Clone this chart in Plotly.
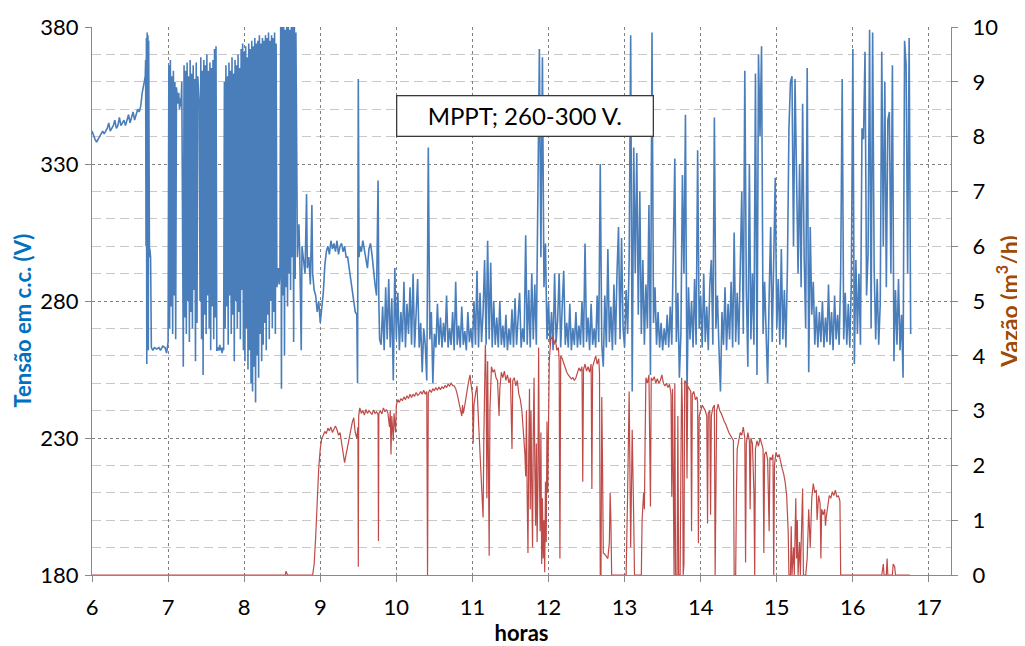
import plotly.graph_objects as go

# Tensão em c.c. (V) -- trechos com passo fixo: (hora inicial, passo em h, valores)
tensao_ini_t0, tensao_ini_dt = 6.00, 0.02
tensao_ini = [342, 340, 339, 338, 339, 340, 341, 342, 341, 342,
              343, 345, 342, 343, 344, 346, 343, 344, 347, 344,
              345, 346, 344, 346, 348, 345, 347, 349, 346, 348,
              350, 349, 351, 356, 359, 362]

# subida e patamar antes das 7 h (hora, V)
tensao_rampa_t = [6.705, 6.71, 6.715, 6.72, 6.725, 6.73, 6.735, 6.74, 6.745, 6.75, 6.755, 6.76,
                  6.77, 6.775, 6.78, 6.80, 6.82, 6.85, 6.88, 6.90, 6.93, 6.96, 6.98]
tensao_rampa = [368, 300, 376, 257, 378, 290, 377, 262, 375, 300, 296, 299,
                296, 280, 263, 262, 263, 262.5, 263, 262, 263.5, 263, 261]

# oscilação densa entre 7 h e 8 h 40
tensao_denso_t0, tensao_denso_dt = 7.00, 0.01
tensao_denso = [265, 366, 270, 368, 278, 362, 268, 364, 282, 360, 266, 358,
                355, 352, 356, 350, 354, 351, 360,
                270, 256, 366, 274, 364, 268, 367, 280, 362, 265, 368, 276, 363, 270, 366, 284, 361, 258, 367, 272, 362,
                356, 352,
                280, 369, 266, 364, 253, 368, 275, 366, 268, 370, 282, 364, 270, 367, 262, 365, 278, 368, 266, 372, 274, 373,
                262, 262, 263, 262, 264, 262, 263, 261, 263, 262,
                360, 270, 366, 278, 362, 264, 367, 282, 364, 268, 369, 275, 363, 258, 368, 280, 366, 270, 370, 276,
                365, 266, 372, 284, 374,
                262, 371, 258, 373, 270, 369, 255, 374, 262, 372, 250, 375, 247, 373, 256, 376, 243, 374, 260, 375,
                252, 377, 268, 374, 258, 376, 264, 375, 272, 377, 262, 376, 275, 378, 266, 375, 280, 377, 270, 376,
                276, 378, 268, 374, 285,
                288, 292, 286, 290,
                380, 248, 380, 282, 380, 260, 379, 285, 380, 278, 380, 290, 379, 284, 380, 296, 380, 265, 380, 288, 378]

# transição 8 h 40 - 9 h 47 (hora, V)
tensao_meio_t = [8.69, 8.70, 8.72, 8.73, 8.75, 8.76, 8.78, 8.80, 8.82, 8.83,
                 8.85, 8.87, 8.89, 8.90, 8.92, 8.94, 8.96, 8.98, 9.00, 9.02,
                 9.04, 9.06, 9.08, 9.10, 9.12, 9.14, 9.16, 9.18, 9.20, 9.22,
                 9.24, 9.26, 9.28, 9.30, 9.32, 9.34, 9.36, 9.38, 9.40, 9.42,
                 9.44, 9.46, 9.48, 9.49, 9.50, 9.51, 9.52, 9.54, 9.56, 9.58,
                 9.60, 9.62, 9.64, 9.66, 9.68, 9.70, 9.72, 9.74, 9.75, 9.76,
                 9.77, 9.78]
tensao_meio = [300, 296, 308, 298, 262, 300, 295, 290, 319, 292,
               296, 286, 315, 290, 284, 282, 276, 280, 272, 277,
               283, 293, 298, 300, 297, 302, 299, 301, 298, 302,
               297, 300, 301, 298, 300, 296, 296, 292, 288, 284,
               280, 276, 275, 250, 361, 296, 300, 298, 302, 299,
               296, 292, 299, 301, 297, 290, 286, 282, 300, 324,
               280, 266]

# MPPT a partir de 9 h 48
tensao_tarde_t0, tensao_tarde_dt = 9.80, 0.02
tensao_tarde = [264, 278, 262, 285, 266, 288, 263, 281, 251, 292,
                266, 283, 262, 276, 265, 287, 263, 279, 268, 285,
                264, 290, 263, 277, 288, 263, 272, 254, 270, 264,
                251, 336, 266, 276, 250, 268, 263, 279, 264, 274,
                263, 272, 265, 282, 263, 270, 264, 276, 262, 287,
                264, 271, 263, 278, 264, 269, 262, 276, 265, 270,
                263, 280, 264, 291, 263, 283, 265, 276, 295, 264,
                302, 266, 294, 263, 280, 264, 274, 263, 280, 264,
                271, 263, 275, 262, 270, 264, 277, 263, 281, 264,
                272, 283, 263, 270, 265, 304, 264, 284, 263, 290,
                266, 286, 264, 318, 372, 296, 369, 285, 301, 266,
                280, 264, 276, 262, 290, 265, 273, 290, 263, 278,
                291, 264, 272, 263, 279, 262, 270, 264, 276, 263,
                271, 264, 280, 263, 301, 265, 274, 262, 279, 264,
                270, 263, 282, 265, 330, 264, 256, 282, 263, 299,
                265, 278, 262, 286, 264, 290, 307, 266, 303, 270,
                263, 284, 268, 295, 377, 247, 336, 290, 334, 275,
                320, 268, 295, 264, 286, 270, 315, 253, 378, 272,
                285, 264, 276, 263, 272, 262, 270, 264, 275, 263,
                278, 264, 297, 332, 265, 283, 252, 268, 326, 290,
                348, 245, 285, 266, 280, 263, 288, 264, 335, 270,
                282, 263, 290, 265, 278, 262, 286, 295, 264, 347,
                270, 282, 263, 247, 276, 264, 285, 262, 279, 266,
                287, 263, 305, 265, 283, 264, 292, 320, 268, 364,
                284, 256, 330, 266, 290, 264, 363, 253, 370, 340,
                373, 268, 287, 264, 250, 282, 307, 265, 290, 325,
                270, 288, 264, 299, 266, 284, 263, 292, 343, 360,
                362, 300, 361, 320, 290, 330, 285, 352, 296, 270,
                365, 254, 307, 275, 287, 264, 278, 263, 276, 265,
                280, 263, 274, 265, 286, 264, 276, 262, 282, 266,
                275, 264, 290, 361, 266, 283, 264, 279, 263, 287,
                372, 257, 295, 268, 290, 264, 343, 339, 371, 282,
                297, 379, 270, 378, 292, 266, 288, 264, 279, 371,
                300, 360, 285, 346, 349, 290, 366, 258, 284, 264,
                288, 262, 275, 252, 375, 366, 290, 376, 268]

# Vazão (m3/h), pares (hora, vazão)
vazao_manha = [(6.00, 0), (8.54, 0), (8.55, 0.07), (8.57, 0), (8.90, 0), (8.92, 0.2), (8.94, 0.7),
               (8.95, 1.05), (8.97, 1.5), (8.98, 1.95), (9.00, 2.3), (9.02, 2.5), (9.04, 2.55),
               (9.06, 2.62), (9.08, 2.58), (9.10, 2.68), (9.12, 2.63), (9.14, 2.7), (9.16, 2.6),
               (9.18, 2.66), (9.20, 2.72), (9.22, 2.65), (9.24, 2.55), (9.26, 2.6), (9.28, 2.42),
               (9.30, 2.25), (9.32, 2.05), (9.34, 2.2), (9.36, 2.35), (9.38, 2.45), (9.40, 2.62),
               (9.42, 2.78), (9.44, 2.87), (9.46, 2.6), (9.48, 2.5), (9.495, 2.7), (9.50, 0.15),
               (9.505, 2.9), (9.52, 3.05), (9.54, 2.95), (9.56, 3.0), (9.58, 2.92), (9.60, 3.02),
               (9.62, 2.95), (9.64, 3.0), (9.66, 2.97), (9.68, 2.93), (9.70, 3.01), (9.72, 2.95),
               (9.74, 2.98), (9.76, 2.92), (9.765, 0.62), (9.77, 2.95), (9.79, 3.0), (9.81, 2.94),
               (9.83, 3.05), (9.85, 2.98), (9.87, 3.02), (9.89, 2.95), (9.91, 2.7), (9.92, 3.0),
               (9.93, 2.2), (9.94, 2.9), (9.96, 2.45), (9.97, 2.95), (9.99, 2.6), (10.00, 3.1),
               (10.02, 3.2), (10.04, 3.15), (10.06, 3.22), (10.08, 3.18), (10.10, 3.25), (10.12, 3.2),
               (10.14, 3.27), (10.16, 3.22), (10.18, 3.3), (10.20, 3.24), (10.22, 3.3), (10.24, 3.26),
               (10.26, 3.33), (10.28, 3.28), (10.30, 3.3), (10.32, 3.35), (10.34, 3.3), (10.36, 3.37),
               (10.38, 3.3), (10.40, 3.35), (10.41, 0), (10.42, 3.32), (10.44, 3.38), (10.46, 3.33),
               (10.48, 3.4), (10.50, 3.36), (10.52, 3.42), (10.54, 3.37), (10.56, 3.43), (10.58, 3.38),
               (10.60, 3.44), (10.62, 3.4), (10.64, 3.46), (10.66, 3.42), (10.68, 3.48), (10.70, 3.45),
               (10.72, 3.5), (10.74, 3.46), (10.76, 3.45), (10.78, 3.4)]

vazao_meio_dia = [(10.80, 3.3), (10.82, 3.15), (10.84, 3.0), (10.86, 2.9), (10.87, 3.1), (10.88, 2.95),
                  (10.90, 3.1), (10.92, 3.3), (10.94, 3.45), (10.96, 3.6), (10.97, 3.65), (10.98, 3.5),
                  (11.00, 3.3), (11.01, 2.4), (11.02, 3.1), (11.04, 3.3), (11.06, 3.45), (11.08, 2.8),
                  (11.10, 2.3), (11.12, 1.6), (11.14, 1.05), (11.15, 2.5), (11.17, 4.2), (11.18, 3.6),
                  (11.19, 1.4), (11.20, 3.9), (11.21, 2.5), (11.22, 0.35), (11.23, 3.0), (11.25, 3.8),
                  (11.27, 3.7), (11.29, 3.75), (11.31, 3.6), (11.33, 3.55), (11.35, 2.9), (11.36, 3.4),
                  (11.38, 3.7), (11.40, 3.6), (11.42, 3.72), (11.44, 3.55), (11.46, 3.65), (11.48, 3.5),
                  (11.50, 3.6), (11.52, 2.3), (11.53, 3.55), (11.55, 3.6), (11.57, 3.45), (11.59, 3.55),
                  (11.61, 3.3), (11.63, 3.2), (11.65, 3.0), (11.67, 2.6), (11.69, 2.2), (11.70, 1.8),
                  (11.71, 3.0), (11.72, 1.4), (11.73, 0.4), (11.74, 2.2), (11.75, 3.4), (11.76, 1.2),
                  (11.77, 3.0), (11.78, 1.6), (11.79, 0.5), (11.80, 2.6), (11.81, 3.6), (11.82, 2.0),
                  (11.83, 0.9), (11.84, 2.4), (11.85, 0.6), (11.86, 1.6), (11.87, 4.15), (11.88, 1.9),
                  (11.89, 0.8), (11.90, 2.6), (11.91, 0.2), (11.92, 1.4), (11.93, 0.3), (11.94, 1.0),
                  (11.95, 0.05), (11.96, 1.7), (11.97, 0.6), (11.98, 2.8), (11.99, 1.5), (12.01, 3.9),
                  (12.03, 4.3), (12.05, 4.35), (12.07, 4.2), (12.09, 4.3), (12.11, 4.1), (12.13, 4.15),
                  (12.14, 3.9), (12.15, 0.3), (12.16, 4.0), (12.18, 3.95), (12.20, 3.85), (12.22, 3.78),
                  (12.24, 3.7), (12.26, 3.65), (12.28, 3.62), (12.30, 3.58), (12.32, 3.6), (12.34, 3.55),
                  (12.36, 3.6), (12.38, 3.7), (12.40, 3.78), (12.42, 3.72), (12.44, 3.8), (12.45, 1.7),
                  (12.46, 3.75), (12.48, 3.85), (12.50, 3.72), (12.52, 3.8), (12.54, 3.7), (12.56, 3.85),
                  (12.57, 1.57), (12.58, 3.8), (12.60, 3.9), (12.62, 4.0), (12.64, 3.85), (12.66, 3.95),
                  (12.67, 3.7), (12.68, 0), (12.69, 0), (12.70, 3.25), (12.71, 2.0), (12.72, 0.4),
                  (12.74, 0.38), (12.76, 0.35), (12.78, 0.3), (12.80, 0.6), (12.81, 1.5), (12.82, 1.0),
                  (12.83, 0), (12.98, 0)]

vazao_tarde = [(13.02, 0), (13.04, 1.5), (13.06, 3.35), (13.08, 0.5), (13.10, 2.65), (13.12, 1.0),
               (13.13, 0), (13.22, 0), (13.23, 1.0), (13.25, 1.5), (13.26, 1.2), (13.27, 2.5),
               (13.28, 3.6), (13.30, 3.5), (13.32, 3.65), (13.34, 1.25), (13.35, 3.6), (13.37, 3.55),
               (13.39, 3.62), (13.41, 3.5), (13.43, 3.58), (13.45, 3.5), (13.47, 3.55), (13.49, 3.65),
               (13.51, 3.5), (13.53, 3.45), (13.55, 3.5), (13.57, 3.42), (13.59, 3.48), (13.61, 3.3),
               (13.62, 1.43), (13.63, 3.4), (13.64, 0.5), (13.65, 0), (13.66, 3.5), (13.67, 0),
               (13.69, 0), (13.70, 2.9), (13.71, 0), (13.73, 0), (13.74, 2.0), (13.75, 3.6),
               (13.76, 3.0), (13.77, 0), (13.78, 0.2), (13.79, 3.55), (13.81, 3.5), (13.82, 1.76),
               (13.83, 3.45), (13.85, 3.4), (13.87, 3.35), (13.88, 0.8), (13.89, 3.3), (13.91, 3.35),
               (13.93, 3.2), (13.95, 3.25), (13.96, 3.15), (13.97, 0.58), (13.98, 2.9), (14.00, 3.0),
               (14.02, 3.1), (14.04, 3.05), (14.06, 3.0), (14.08, 2.9), (14.09, 0.94), (14.10, 2.95),
               (14.12, 3.0), (14.13, 1.1), (14.14, 2.9), (14.16, 3.05), (14.18, 3.1), (14.19, 0),
               (14.20, 2.0), (14.21, 3.0), (14.23, 3.12), (14.25, 3.0), (14.27, 2.95), (14.29, 2.85),
               (14.31, 2.8), (14.33, 2.75), (14.35, 2.65), (14.37, 2.6), (14.39, 2.55), (14.41, 2.5),
               (14.43, 2.45), (14.44, 0), (14.46, 0), (14.47, 1.5), (14.48, 2.3), (14.50, 2.45),
               (14.52, 2.6), (14.54, 2.55), (14.56, 2.7), (14.58, 2.5), (14.59, 0.23), (14.60, 2.4),
               (14.62, 2.6), (14.64, 2.45), (14.65, 1.2), (14.66, 2.5), (14.68, 2.4), (14.70, 1.5),
               (14.71, 0), (14.72, 2.3), (14.74, 2.45), (14.76, 2.35), (14.78, 2.5), (14.80, 2.4),
               (14.82, 2.3), (14.83, 0.4), (14.84, 2.2), (14.86, 2.25), (14.88, 2.1), (14.90, 0.8),
               (14.91, 2.15), (14.93, 2.1), (14.95, 2.2), (14.96, 0), (14.97, 2.0), (14.99, 2.24),
               (15.01, 2.15), (15.03, 2.2), (15.05, 2.05), (15.07, 1.95), (15.09, 1.85), (15.11, 1.7),
               (15.13, 1.45), (15.15, 0.8), (15.16, 0), (15.18, 0), (15.19, 0.89), (15.20, 0),
               (15.22, 0.5), (15.23, 0), (15.25, 1.4), (15.26, 0.3), (15.27, 1.0), (15.28, 0),
               (15.30, 0.6), (15.31, 0), (15.34, 1.58), (15.35, 0), (15.38, 0), (15.40, 0.3),
               (15.42, 1.2), (15.44, 0.5), (15.46, 1.4), (15.48, 1.67), (15.50, 1.5), (15.52, 1.55),
               (15.53, 1.0), (15.55, 1.45), (15.57, 1.3), (15.58, 0.3), (15.59, 1.2), (15.61, 1.1),
               (15.63, 1.2), (15.64, 0.9), (15.65, 1.05), (15.67, 1.3), (15.69, 1.45), (15.71, 1.4),
               (15.73, 1.52), (15.75, 1.45), (15.77, 1.55), (15.79, 1.42), (15.81, 1.45), (15.83, 1.35),
               (15.84, 0), (16.38, 0), (16.40, 0.2), (16.41, 0), (16.44, 0), (16.45, 0.3), (16.46, 0),
               (16.52, 0), (16.53, 0.2), (16.55, 0.15), (16.56, 0), (16.75, 0)]

horas_ticks = list(range(6, 18))
tensao_ticks = [180, 230, 280, 330, 380]
vazao_ticks = list(range(0, 11))
vazao_grade = [0.5, 1, 1.5, 2, 3, 3.5, 4, 4.5, 5.5, 6, 6.5, 7, 8, 8.5, 9, 9.5]


def passo(t0, dt, vals):
    return [round(t0 + i * dt, 4) for i in range(len(vals))]


t_tensao = (passo(tensao_ini_t0, tensao_ini_dt, tensao_ini) + tensao_rampa_t
            + passo(tensao_denso_t0, tensao_denso_dt, tensao_denso) + tensao_meio_t
            + passo(tensao_tarde_t0, tensao_tarde_dt, tensao_tarde))
v_tensao = tensao_ini + tensao_rampa + tensao_denso + tensao_meio + tensao_tarde

vazao = vazao_manha + vazao_meio_dia + vazao_tarde
t_vazao = [p[0] for p in vazao]
q_vazao = [p[1] for p in vazao]

FONTE = "Lato, 'Open Sans', sans-serif"
EIXO = "#898989"

fig = go.Figure()
fig.add_trace(go.Scatter(x=t_tensao, y=v_tensao, mode="lines", yaxis="y",
                         line=dict(color="#4A7EBB", width=1.6), showlegend=False))
fig.add_trace(go.Scatter(x=t_vazao, y=q_vazao, mode="lines", yaxis="y2",
                         line=dict(color="#BE4B48", width=1.2), showlegend=False))

fig.add_annotation(x=11.69, y=347.5, xref="x", yref="y", text="MPPT; 260-300 V.",
                   showarrow=False, font=dict(family=FONTE, size=24, color="black"),
                   bgcolor="white", bordercolor="#3a3a3a", borderwidth=1.3,
                   borderpad=4, width=247, height=31)

# título do eixo esquerdo, um pouco abaixo do centro como no original
fig.add_annotation(x=-0.0812, y=0.465, xref="paper", yref="paper", xanchor="center", yanchor="middle",
                   text="<b>Tensão em c.c. (V)</b>", textangle=-90, showarrow=False,
                   font=dict(family=FONTE, size=22, color="#0070C0"))

# a página tem 8 px de margem no corpo: figura um pouco menor para caber na janela
fig.update_layout(
    width=1017, height=638,
    margin=dict(l=84, r=74, t=19, b=71, autoexpand=False),
    paper_bgcolor="white", plot_bgcolor="white",
    font=dict(family=FONTE, size=22, color="black"),
    xaxis=dict(range=[6, 17.29], tickvals=horas_ticks, showgrid=True, automargin=False,
               gridcolor="#808080", griddash="3px,3px", gridwidth=1,
               showline=True, linecolor=EIXO, linewidth=1.3, zeroline=False,
               ticks="outside", ticklen=6, tickcolor=EIXO, ticklabelstandoff=6,
               title=dict(text="<b>horas</b>", font=dict(size=22), standoff=5)),
    yaxis=dict(range=[180, 380], tickvals=tensao_ticks, showgrid=True, automargin=False,
               gridcolor="#808080", griddash="3px,3px", gridwidth=1,
               showline=True, linecolor=EIXO, linewidth=1.3, zeroline=False,
               ticks="outside", ticklen=6, tickcolor=EIXO, ticklabelstandoff=2),
    yaxis2=dict(range=[0, 10], tickvals=vazao_ticks, overlaying="y", side="right", automargin=False,
                showgrid=False, showline=True, linecolor=EIXO, linewidth=1.3, zeroline=False,
                ticks="outside", ticklen=6, tickcolor=EIXO, ticklabelstandoff=10,
                minor=dict(tickvals=vazao_grade, showgrid=True, gridcolor="#c8c8c8",
                           griddash="9px,5px", gridwidth=1.4, ticks=""),
                title=dict(text="<b>Vazão (m<sup>3</sup>/h)</b>", font=dict(size=23, color="#A04A0A"),
                           standoff=4)),
)

fig.write_html("out.html")
